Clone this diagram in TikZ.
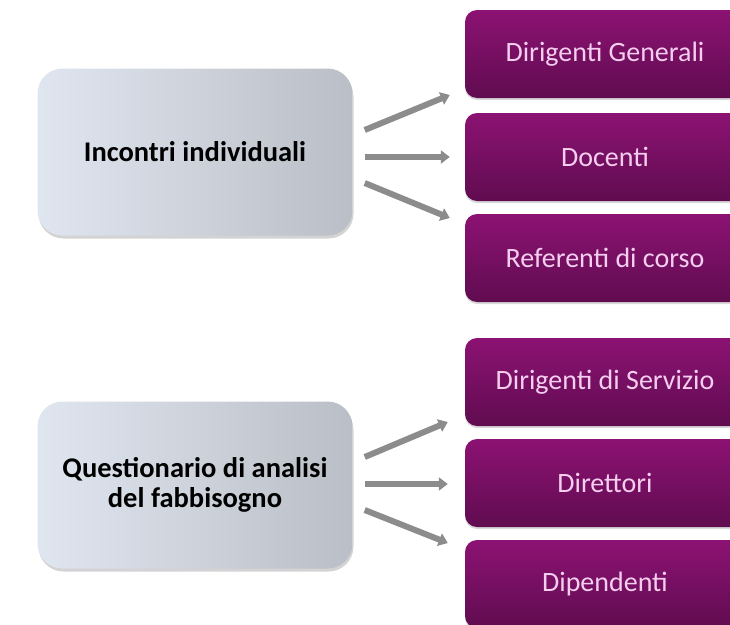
\documentclass[tikz,border=0pt]{standalone}
\usepackage{fontspec}
\setmainfont{Carlito}
\usepackage{tikz}
\usetikzlibrary{arrows.meta, positioning, calc, shadows}
\definecolor{methodleft}{RGB}{224, 230, 240}
\definecolor{methodmiddle}{RGB}{229, 233, 240}
\definecolor{methodright}{RGB}{186, 190, 198}
\definecolor{targettop}{RGB}{140, 18, 115}
\definecolor{targetbottom}{RGB}{96, 12, 80}
\definecolor{targettext}{RGB}{245, 205, 238}
\definecolor{linkcolor}{RGB}{140, 140, 140}

\begin{document}
\begin{tikzpicture}[
    x=1pt, y=-1pt,
    method/.style={rounded corners=25pt, left color=methodleft, middle color=methodmiddle, right color=methodright, minimum width=315pt, minimum height=167pt, font=\fontsize{28.5}{30}\selectfont\bfseries, align=center, drop shadow={shadow xshift=1pt, shadow yshift=-3pt, opacity=0.35}},
    target/.style={rounded corners=12pt, top color=targettop, bottom color=targetbottom, minimum width=280pt, minimum height=88pt, text=targettext, font=\fontsize{28}{30}\selectfont, drop shadow={shadow xshift=0pt, shadow yshift=-2pt, opacity=0.3}},
    link/.style={draw=linkcolor, line width=6pt, -{Triangle[length=9pt, width=13pt]}}
]
    \useasboundingbox (0,0) rectangle (730,624);
    \clip (0,0) rectangle (730,624);

    % Methods
    \node[method] (incontri) at (195,152) {Incontri individuali};
    \node[method] (questionario) at (195,485) {Questionario di analisi\\del fabbisogno};

    % Targets (first group)
    \node[target] (generali) at (605,54) {Dirigenti Generali};
    \node[target] (docenti) at (605,157) {Docenti};
    \node[target] (referenti) at (605,258) {Referenti di corso};

    % Targets (second group)
    \node[target] (servizio) at (605,382) {Dirigenti di Servizio};
    \node[target] (direttori) at (605,483) {Direttori};
    \node[target] (dipendenti) at (605,584) {Dipendenti};

    % Arrows
    \draw[link] ($(incontri.east)+(12,-22)$) -- ($(generali.west)+(-15,41)$);
    \draw[link] ($(incontri.east)+(12,5)$) -- ($(docenti.west)+(-15,0)$);
    \draw[link] ($(incontri.east)+(12,31)$) -- ($(referenti.west)+(-15,-40)$);

    \draw[link] ($(questionario.east)+(12,-28)$) -- ($(servizio.west)+(-17,40)$);
    \draw[link] ($(questionario.east)+(12,-1)$) -- ($(direttori.west)+(-17,1)$);
    \draw[link] ($(questionario.east)+(12,25)$) -- ($(dipendenti.west)+(-17,-41)$);

\end{tikzpicture}
\end{document}
